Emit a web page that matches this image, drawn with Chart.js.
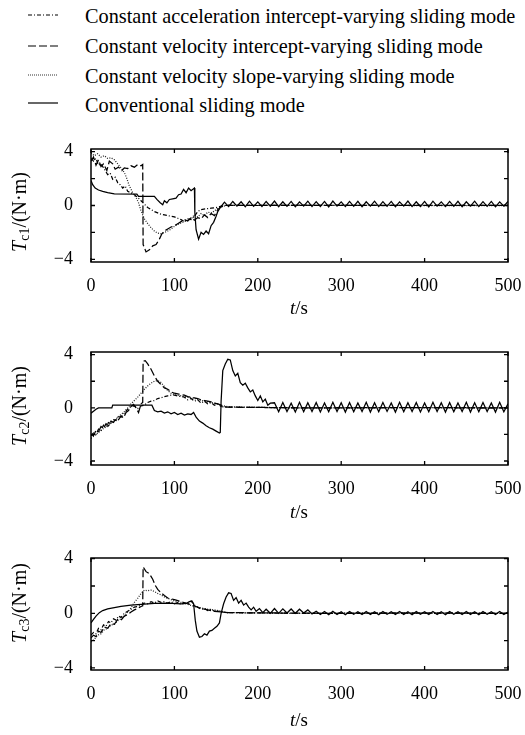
<!DOCTYPE html>
<html><head><meta charset="utf-8">
<script src="https://cdn.jsdelivr.net/npm/chart.js@4"></script>
<style>
html,body{margin:0;padding:0;background:#fff;}
body{width:525px;height:735px;position:relative;overflow:hidden;font-family:"Liberation Serif","Times New Roman",serif;color:#000;}
.lg{position:absolute;left:85px;font-size:20.3px;line-height:24px;white-space:nowrap;}
.lgs{position:absolute;left:28px;}
canvas{position:absolute;left:0;}
.yt{position:absolute;font-size:20px;white-space:nowrap;transform:translate(-50%,-50%) rotate(-90deg);line-height:1;}
.yt sub{font-size:14px;vertical-align:-3px;line-height:0;}
.xt{position:absolute;font-size:19px;white-space:nowrap;transform:translate(-50%,-50%);line-height:1;}
</style></head><body>

<svg class="lgs" style="top:13px" width="30" height="4"><line x1="0" y1="2" x2="30" y2="2" stroke="#000" stroke-width="1.2" stroke-dasharray="4,2,1,2"/></svg>
<div class="lg" style="top:4px">Constant acceleration intercept-varying sliding mode</div>
<svg class="lgs" style="top:44px" width="30" height="4"><line x1="0" y1="2" x2="30" y2="2" stroke="#000" stroke-width="1.2" stroke-dasharray="8,3"/></svg>
<div class="lg" style="top:34px">Constant velocity intercept-varying sliding mode</div>
<svg class="lgs" style="top:73px" width="30" height="4"><line x1="0" y1="2" x2="30" y2="2" stroke="#333" stroke-width="1.2" stroke-dasharray="1,1"/></svg>
<div class="lg" style="top:64px">Constant velocity slope-varying sliding mode</div>
<svg class="lgs" style="top:101px" width="30" height="4"><line x1="0" y1="2" x2="30" y2="2" stroke="#000" stroke-width="1.2"/></svg>
<div class="lg" style="top:93px">Conventional sliding mode</div>

<canvas id="c1" width="525" height="162" style="top:140px"></canvas>
<canvas id="c2" width="525" height="165" style="top:340px"></canvas>
<canvas id="c3" width="525" height="165" style="top:545px"></canvas>

<div class="yt" style="left:19px;top:212px"><i>T</i><sub>c1</sub>/(N·m)</div>
<div class="yt" style="left:19px;top:406px"><i>T</i><sub>c2</sub>/(N·m)</div>
<div class="yt" style="left:19px;top:603px"><i>T</i><sub>c3</sub>/(N·m)</div>
<div class="xt" style="left:299px;top:307px"><i>t</i>/s</div>
<div class="xt" style="left:299px;top:511px"><i>t</i>/s</div>
<div class="xt" style="left:299px;top:719px"><i>t</i>/s</div>

<script>
const xTicks = [0,100,200,300,400,500];
const xTickLabels = ['0','100','200','300','400','500'];
const yTicks = [-4,-2,0,2,4];
const yTickLabels = ['\u22124','','0','','4'];
const seriesNames = ['Constant acceleration intercept-varying sliding mode','Constant velocity intercept-varying sliding mode','Constant velocity slope-varying sliding mode','Conventional sliding mode'];

// ---- Tc1 ----
const c1Accel = [[0,3.5],[3,3.3],[6,3.5],[9,3.0],[12,3.1],[16,2.7],[20,2.3],[23,2.4],[26,1.95],[29,2.1],[32,1.7],[35,1.55],[38,1.3],[41,1.45],[44,1.05],[48,0.95],[52,0.8],[56,0.6],[60,0.35],[64,0.1],[68,-0.15],[72,-0.3],[76,-0.45],[80,-0.55],[84,-0.65],[88,-0.7],[92,-0.75],[96,-0.8],[100,-0.85],[104,-0.95],[108,-1.05],[112,-1.2],[116,-1.0],[120,-1.05],[124,-0.8],[128,-0.45],[132,-0.3],[138,-0.25],[144,-0.2],[150,-0.15],[156,-0.05],[162,0.02],[200,0.0],[300,0.02],[400,0.0],[500,0.01]];
const c1VelIntercept = [[0,3.3],[3,3.6],[6,3.0],[9,3.4],[12,2.9],[15,3.1],[19,2.6],[22,3.3],[26,3.1],[29,2.7],[33,2.85],[37,2.6],[40,2.8],[44,2.75],[48,2.95],[52,2.85],[56,3.05],[60,2.95],[62,3.05],[62.5,-2.9],[66,-3.45],[70,-3.3],[74,-3.0],[78,-2.9],[82,-2.5],[85,-2.1],[88,-1.9],[92,-1.75],[96,-1.6],[100,-1.5],[104,-1.35],[108,-1.2],[112,-1.05],[116,-1.15],[120,-0.9],[124,-1.1],[128,-0.9],[132,-1.0],[136,-0.7],[140,-0.9],[144,-0.6],[148,-0.75],[152,-0.3],[156,-0.1],[162,0.0],[250,0.02],[350,0.0],[500,0.01]];
const c1VelSlope = [[0,3.9],[4,3.7],[8,3.85],[12,3.6],[16,3.7],[20,3.5],[24,3.55],[28,3.4],[32,3.1],[36,2.8],[40,2.45],[43,2.0],[46,1.45],[50,0.95],[54,0.6],[57,0.2],[60,-0.4],[64,-1.0],[68,-1.35],[72,-1.65],[76,-1.9],[80,-2.05],[84,-2.1],[88,-2.0],[92,-1.9],[96,-1.75],[100,-1.55],[104,-1.4],[108,-1.3],[112,-1.2],[116,-1.1],[120,-1.0],[124,-0.7],[128,-0.85],[132,-0.6],[136,-0.75],[140,-0.5],[145,-0.55],[150,-0.3],[155,-0.1],[162,0.0],[260,0.01],[380,0.0],[500,0.0]];
const c1Conventional = [[0,1.85],[2,1.55],[5,1.3],[9,1.15],[14,1.05],[20,0.95],[28,0.87],[55,0.85],[57,0.68],[76,0.68],[79,0.45],[83,0.2],[86,0.05],[88,0.35],[91,0.2],[94,0.45],[98,0.5],[102,0.55],[105,0.8],[108,0.85],[111,1.2],[114,0.95],[117,1.3],[120,1.1],[124,1.3],[124.5,-0.5],[126,-1.8],[129,-2.5],[132,-2.0],[135,-2.15],[138,-1.9],[141,-2.1],[144,-1.5],[147,-1.25],[150,-0.8],[152,-0.45],[155,-0.15]];
const c1Ripple = [[160,0.25],[165,-0.08],[170,0.3],[175,-0.05],[180,0.28],[185,-0.1],[190,0.32],[195,-0.06],[200,0.27],[205,-0.08],[210,0.3],[215,-0.05],[220,0.33],[225,-0.09],[230,0.28],[235,-0.06],[240,0.3],[245,-0.1],[250,0.27],[255,-0.05],[260,0.32],[265,-0.08],[270,0.29],[275,-0.07],[280,0.3],[285,-0.1],[290,0.33],[295,-0.05],[300,0.27],[305,-0.08],[310,0.3],[315,-0.06],[320,0.31],[325,-0.1],[330,0.28],[335,-0.05],[340,0.32],[345,-0.08],[350,0.29],[355,-0.06],[360,0.3],[365,-0.1],[370,0.27],[375,-0.05],[380,0.33],[385,-0.08],[390,0.28],[395,-0.07],[400,0.3],[405,-0.1],[410,0.32],[415,-0.05],[420,0.27],[425,-0.08],[430,0.3],[435,-0.06],[440,0.31],[445,-0.1],[450,0.28],[455,-0.05],[460,0.32],[465,-0.08],[470,0.29],[475,-0.06],[480,0.3],[485,-0.1],[490,0.27],[495,-0.05],[500,0.3]];

// ---- Tc2 ----
const c2Accel = [[0,-2.1],[3,-1.9],[6,-2.0],[9,-1.6],[12,-1.7],[15,-1.3],[18,-1.4],[21,-1.1],[24,-1.2],[27,-0.9],[30,-0.95],[33,-0.6],[36,-0.7],[40,-0.4],[44,-0.1],[48,0.1],[52,0.15],[56,-0.05],[60,0.15],[64,0.2],[68,0.4],[72,0.5],[76,0.55],[80,0.7],[84,0.75],[88,0.85],[92,0.9],[96,0.95],[100,0.95],[104,0.9],[108,0.85],[112,0.8],[116,0.6],[120,0.7],[124,0.5],[128,0.6],[132,0.35],[136,0.5],[140,0.3],[144,0.4],[148,0.2],[152,0.3],[156,0.1],[162,0.05],[250,0.0],[380,0.02],[500,0.0]];
const c2VelIntercept = [[0,-2.0],[3,-2.1],[6,-1.7],[9,-1.8],[12,-1.4],[15,-1.55],[18,-1.2],[21,-1.35],[24,-1.0],[27,-1.1],[30,-0.8],[33,-0.9],[36,-0.6],[39,-0.75],[42,-0.35],[45,-0.2],[48,0.1],[51,0.25],[54,0.0],[57,-0.35],[60,0.3],[62,0.4],[62.5,3.5],[65,3.55],[68,3.3],[72,2.9],[76,2.4],[80,2.0],[84,1.75],[88,1.5],[92,1.4],[96,1.2],[100,1.1],[104,1.05],[108,1.0],[112,0.95],[116,0.85],[120,0.8],[124,0.75],[128,0.7],[132,0.6],[136,0.55],[140,0.5],[144,0.45],[148,0.35],[152,0.3],[156,0.2],[162,0.05],[260,0.0],[400,0.01],[500,0.0]];
const c2VelSlope = [[0,-2.3],[4,-2.1],[8,-1.9],[12,-1.7],[16,-1.5],[20,-1.4],[24,-1.15],[28,-1.0],[32,-0.7],[36,-0.5],[40,-0.3],[44,0.0],[48,0.3],[52,0.55],[56,0.8],[60,1.1],[64,1.4],[68,1.65],[72,1.85],[76,2.0],[80,2.05],[84,1.9],[88,1.6],[92,1.3],[96,1.1],[100,1.0],[108,0.9],[116,0.8],[124,0.7],[132,0.55],[140,0.45],[148,0.35],[156,0.2],[164,0.08],[240,0.0],[360,0.01],[500,0.0]];
const c2Conventional = [[0,-0.4],[3,-0.25],[6,-0.1],[9,0.0],[25,0.0],[26,0.2],[73,0.2],[76,-0.2],[80,-0.3],[84,-0.25],[88,-0.4],[92,-0.3],[96,-0.45],[100,-0.35],[104,-0.5],[108,-0.4],[112,-0.55],[116,-0.45],[120,-0.5],[123,-0.35],[126,-0.7],[130,-1.0],[134,-1.15],[138,-1.35],[142,-1.5],[146,-1.6],[150,-1.75],[154,-1.9],[155,-1.85],[156,0.5],[158,2.8],[161,3.3],[164,3.65],[167,3.6],[170,2.8],[173,2.4],[176,2.6],[179,1.9],[182,1.7],[185,1.85],[188,1.5],[191,1.2],[194,1.35],[197,0.9],[200,0.55],[203,0.9],[206,0.45],[209,0.65],[212,0.2],[215,0.35]];
const c2Ripple = [[220,0.38],[225,-0.3],[230,0.4],[235,-0.28],[240,0.35],[245,-0.32],[250,0.42],[255,-0.3],[260,0.38],[265,-0.27],[270,0.4],[275,-0.32],[280,0.36],[285,-0.3],[290,0.42],[295,-0.28],[300,0.38],[305,-0.32],[310,0.4],[315,-0.3],[320,0.36],[325,-0.28],[330,0.42],[335,-0.32],[340,0.38],[345,-0.3],[350,0.4],[355,-0.27],[360,0.36],[365,-0.32],[370,0.42],[375,-0.3],[380,0.38],[385,-0.28],[390,0.4],[395,-0.32],[400,0.36],[405,-0.3],[410,0.42],[415,-0.28],[420,0.38],[425,-0.32],[430,0.4],[435,-0.3],[440,0.36],[445,-0.27],[450,0.42],[455,-0.32],[460,0.38],[465,-0.3],[470,0.4],[475,-0.28],[480,0.36],[485,-0.32],[490,0.42],[495,-0.3],[500,0.3]];

// ---- Tc3 ----
const c3Accel = [[0,-1.6],[3,-1.4],[6,-1.5],[9,-1.1],[12,-1.2],[15,-0.85],[18,-0.95],[21,-0.6],[24,-0.7],[27,-0.4],[30,-0.5],[33,-0.2],[36,-0.3],[40,0.0],[44,0.15],[48,0.3],[52,0.45],[56,0.5],[60,0.6],[64,0.75],[68,0.7],[72,0.85],[76,0.75],[80,0.9],[84,0.8],[88,0.85],[92,0.75],[96,0.85],[100,0.7],[104,0.8],[108,0.65],[112,0.75],[116,0.7],[120,0.9],[124,0.6],[128,0.45],[132,0.3],[136,0.35],[140,0.2],[144,0.3],[148,0.15],[152,0.2],[156,0.1],[164,0.05],[260,0.0],[400,0.02],[500,0.0]];
const c3VelIntercept = [[0,-1.8],[3,-1.6],[6,-1.7],[9,-1.3],[12,-1.4],[16,-1.0],[20,-1.1],[24,-0.75],[28,-0.8],[32,-0.45],[36,-0.5],[40,-0.2],[44,-0.1],[48,0.1],[52,0.25],[56,0.35],[60,0.5],[62,0.55],[62.5,3.4],[66,3.05],[70,2.9],[74,2.5],[77,2.05],[80,1.75],[84,1.5],[88,1.3],[92,1.12],[100,1.0],[108,0.85],[116,0.7],[124,0.55],[132,0.35],[140,0.25],[148,0.15],[156,0.1],[164,0.05],[280,0.0],[420,0.01],[500,0.0]];
const c3VelSlope = [[0,-2.1],[4,-1.9],[8,-1.6],[12,-1.5],[16,-1.2],[20,-1.1],[24,-0.85],[28,-0.8],[32,-0.55],[36,-0.4],[40,-0.2],[44,0.1],[48,0.4],[52,0.8],[56,1.1],[60,1.45],[64,1.7],[68,1.65],[72,1.7],[76,1.6],[80,1.45],[84,1.35],[88,1.2],[92,1.1],[96,1.0],[100,0.9],[108,0.8],[116,0.65],[124,0.5],[132,0.4],[140,0.3],[148,0.25],[156,0.15],[164,0.05],[240,0.0],[360,0.01],[500,0.0]];
const c3Conventional = [[0,-0.7],[3,-0.45],[6,-0.2],[10,0.05],[14,0.2],[20,0.32],[28,0.42],[36,0.5],[48,0.6],[60,0.66],[76,0.72],[92,0.74],[108,0.7],[114,0.72],[118,0.85],[121,0.9],[123,0.7],[125,-0.5],[127,-1.3],[130,-1.75],[133,-1.7],[136,-1.5],[139,-1.6],[142,-1.3],[145,-1.25],[148,-1.1],[151,-0.95],[154,-0.7],[156,0.0],[159,0.7],[162,1.2],[165,1.5],[168,1.45],[171,0.95],[174,1.15],[177,0.75],[180,0.95],[183,0.6],[186,0.75],[189,0.45],[192,0.25],[195,0.45],[198,0.15],[202,0.35],[206,0.05]];
const c3Ripple = [[210,0.3],[215,0.0],[220,0.35],[225,0.0],[230,0.33],[235,0.02],[240,0.32],[245,0.0],[250,0.3],[255,0.02],[260,0.25],[265,-0.05],[270,0.15],[275,-0.08],[280,0.13],[285,-0.1],[290,0.14],[295,-0.08],[300,0.12],[305,-0.1],[310,0.14],[315,-0.07],[320,0.12],[325,-0.09],[330,0.13],[335,-0.08],[340,0.12],[345,-0.1],[350,0.14],[355,-0.07],[360,0.12],[365,-0.09],[370,0.13],[375,-0.08],[380,0.12],[385,-0.1],[390,0.14],[395,-0.07],[400,0.12],[405,-0.09],[410,0.13],[415,-0.08],[420,0.12],[425,-0.1],[430,0.14],[435,-0.07],[440,0.12],[445,-0.09],[450,0.13],[455,-0.08],[460,0.12],[465,-0.1],[470,0.14],[475,-0.07],[480,0.12],[485,-0.09],[490,0.13],[495,-0.08],[500,0.1]];

const styles = [
  {dash:[4,2,1,2], color:'#000'},
  {dash:[8,3], color:'#000'},
  {dash:[1,1.5], color:'#222'},
  {dash:[], color:'#000'}
];

const frameTicks = {
  id:'frameTicks',
  afterDraw(chart){
    const {ctx, chartArea:a, scales:{x,y}} = chart;
    ctx.save();
    ctx.strokeStyle='#000';
    ctx.lineWidth=1.5;
    ctx.setLineDash([]);
    ctx.strokeRect(a.left, a.top, a.right-a.left, a.bottom-a.top);
    ctx.lineWidth=1.3;
    const L=4;
    ctx.beginPath();
    xTicks.forEach(v=>{const p=x.getPixelForValue(v); ctx.moveTo(p,a.bottom); ctx.lineTo(p,a.bottom-L); ctx.moveTo(p,a.top); ctx.lineTo(p,a.top+L);});
    yTicks.forEach(v=>{const p=y.getPixelForValue(v); ctx.moveTo(a.left,p); ctx.lineTo(a.left+L,p); ctx.moveTo(a.right,p); ctx.lineTo(a.right-L,p);});
    ctx.stroke();
    ctx.restore();
  }
};

function toXY(arr){ return arr.map(p=>({x:p[0], y:p[1]})); }
function noPad(s){ s.paddingTop=0; s.paddingBottom=0; s.paddingLeft=0; s.paddingRight=0; }

function build(id, sets, ripple, yMin, yMax, padTop){
  const all = [sets[0], sets[1], sets[2], sets[3].concat(ripple)];
  new Chart(document.getElementById(id), {
    type:'line',
    data:{datasets: all.map((s,i)=>({
      label: seriesNames[i], data: toXY(s),
      borderColor: styles[i].color, borderWidth:1.25, borderDash: styles[i].dash,
      pointRadius:0, tension:0, fill:false
    }))},
    options:{
      responsive:false, animation:false, events:[],
      layout:{padding:{left:0,right:17,top:padTop,bottom:0}, autoPadding:false},
      plugins:{legend:{display:false}, tooltip:{enabled:false}},
      scales:{
        x:{type:'linear', min:0, max:500,
          afterBuildTicks:s=>{s.ticks = xTicks.map(v=>({value:v}));},
          afterFit:s=>{s.height=40; noPad(s);},
          grid:{display:false, drawTicks:false}, border:{display:false},
          ticks:{autoSkip:false, maxRotation:0, padding:13, color:'#000',
            font:{family:'"Liberation Serif", serif', size:18},
            callback:(v,i)=>xTickLabels[i]}},
        y:{type:'linear', min:yMin, max:yMax,
          afterBuildTicks:s=>{s.ticks = yTicks.map(v=>({value:v}));},
          afterFit:s=>{s.width=91; noPad(s);},
          grid:{display:false, drawTicks:false}, border:{display:false},
          ticks:{autoSkip:false, padding:18, color:'#000',
            font:{family:'"Liberation Serif", serif', size:18},
            callback:(v,i)=>yTickLabels[i]}}
      }
    },
    plugins:[frameTicks]
  });
}

build('c1', [c1Accel, c1VelIntercept, c1VelSlope, c1Conventional], c1Ripple, -4.2, 4.2, 9);
build('c2', [c2Accel, c2VelIntercept, c2VelSlope, c2Conventional], c2Ripple, -4.3, 4.2, 12);
build('c3', [c3Accel, c3VelIntercept, c3VelSlope, c3Conventional], c3Ripple, -4.15, 4.05, 13);
</script>
</body></html>
